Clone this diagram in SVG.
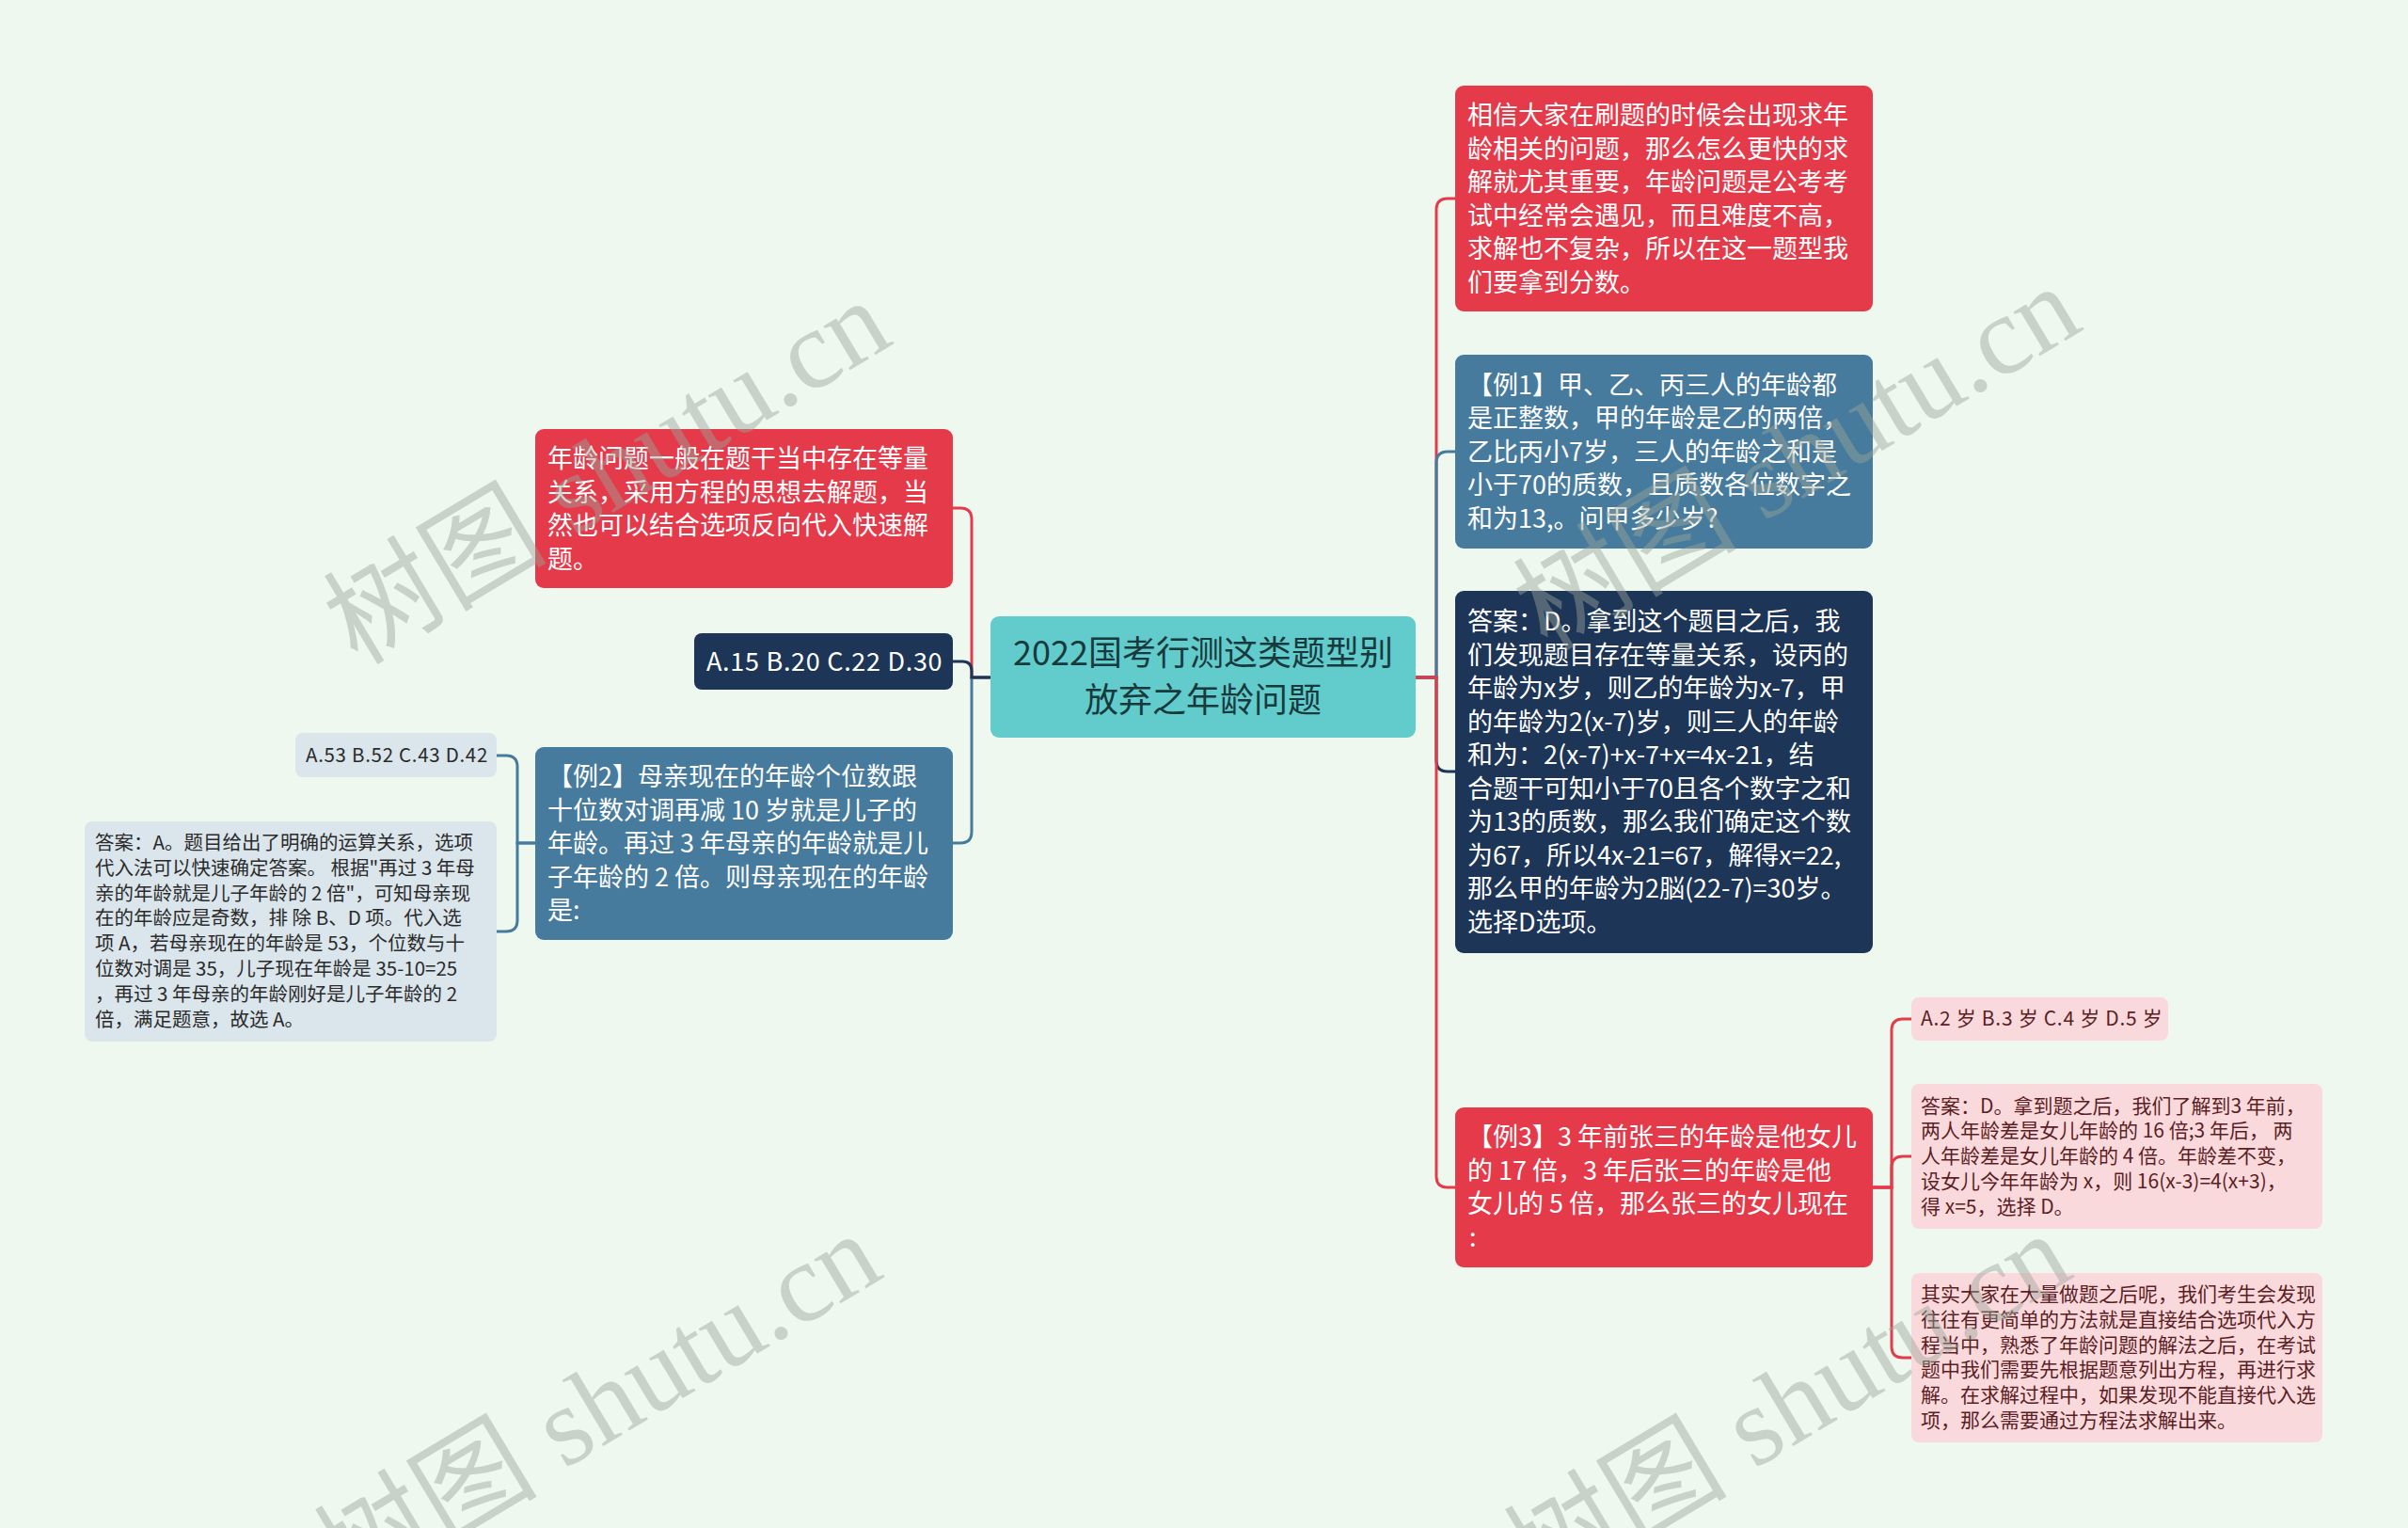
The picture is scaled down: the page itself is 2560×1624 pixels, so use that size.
<svg xmlns="http://www.w3.org/2000/svg" width="2560" height="1624" viewBox="0 0 2560 1624">
<style>
.t{font-family:"Noto Sans CJK SC","Noto Sans",sans-serif;}
.big{font-size:27px;fill:#ffffff;}
.sm{font-size:20.5px;fill:#2b2b2b;}
.pk{font-size:21px;fill:#5a1e24;}
.ctr{font-size:36px;fill:#173a3c;}
.ls{letter-spacing:0.7px;}
.red{fill:#e43a4a;}
.blue{fill:#477b9d;}
.navy{fill:#1d3557;}
.teal{fill:#62cbcc;}
.pink{fill:#fad9dd;}
.gb{fill:#dae5ec;}
.c{fill:none;stroke-width:3;stroke-linecap:round;}
.cr{stroke:#e43a4a;}
.cb{stroke:#477b9d;}
.cn{stroke:#1d3557;}
.wm{font-family:"Liberation Serif","Noto Sans CJK SC",serif;font-size:119px;fill:#9aa59a;opacity:0.45;}
</style>
<rect x="0" y="0" width="2560" height="1624" fill="#eff8ef"/>
<g id="connectors">
<path class="c cr" d="M1505,720 H1527 V223 Q1527,211 1539,211 H1547"/>
<path class="c cn" d="M1505,720 H1527 V808 Q1527,820 1539,820 H1547"/>
<path class="c cb" d="M1505,720 H1527 V492 Q1527,480 1539,480 H1547"/>
<path class="c cr" d="M1505,720 H1527 V1250 Q1527,1262 1539,1262 H1547"/>
<path class="c cr" d="M1991,1262 H2011 V1095 Q2011,1083 2023,1083 H2032"/>
<path class="c cr" d="M1991,1262 H2011 V1241 Q2011,1229 2023,1229 H2032"/>
<path class="c cr" d="M1991,1262 H2011 V1431 Q2011,1443 2023,1443 H2032"/>
<path class="c cr" d="M1053,720 H1033 V552 Q1033,540 1021,540 H1013"/>
<path class="c cb" d="M1053,720 H1033 V884 Q1033,896 1021,896 H1013"/>
<path class="c cn" d="M1053,720 H1033 V713 Q1033,703 1023,703 H1013"/>
<path class="c cb" d="M569,896 H550 V815 Q550,803 538,803 H528"/>
<path class="c cb" d="M569,896 H550 V978 Q550,990 538,990 H528"/>
</g>
<g id="center">
<rect class="teal" x="1053" y="655" width="452" height="129" rx="9"/>
<text class="t ctr" x="1279" text-anchor="middle"><tspan x="1279" y="707">2022国考行测这类题型别</tspan><tspan x="1279" y="757">放弃之年龄问题</tspan></text>
</g>
<g id="r1">
<rect class="red" x="1547" y="91" width="444" height="240" rx="9"/>
<text class="t big"><tspan x="1560" y="132">相信大家在刷题的时候会出现求年</tspan><tspan x="1560" dy="35.5">龄相关的问题，那么怎么更快的求</tspan><tspan x="1560" dy="35.5">解就尤其重要，年龄问题是公考考</tspan><tspan x="1560" dy="35.5">试中经常会遇见，而且难度不高，</tspan><tspan x="1560" dy="35.5">求解也不复杂，所以在这一题型我</tspan><tspan x="1560" dy="35.5">们要拿到分数。</tspan></text>
</g>
<g id="r2">
<rect class="blue" x="1547" y="377" width="444" height="206" rx="9"/>
<text class="t big"><tspan x="1560" y="418.5">【例1】甲、乙、丙三人的年龄都</tspan><tspan x="1560" dy="35.5">是正整数，甲的年龄是乙的两倍，</tspan><tspan x="1560" dy="35.5">乙比丙小7岁，三人的年龄之和是</tspan><tspan x="1560" dy="35.5">小于70的质数，且质数各位数字之</tspan><tspan x="1560" dy="35.5">和为13,。问甲多少岁?</tspan></text>
</g>
<g id="r3">
<rect class="navy" x="1547" y="628" width="444" height="385" rx="9"/>
<text class="t big"><tspan x="1560" y="670">答案：D。拿到这个题目之后，我</tspan><tspan x="1560" dy="35.5">们发现题目存在等量关系，设丙的</tspan><tspan x="1560" dy="35.5">年龄为x岁，则乙的年龄为x-7，甲</tspan><tspan x="1560" dy="35.5">的年龄为2(x-7)岁，则三人的年龄</tspan><tspan x="1560" dy="35.5">和为：2(x-7)+x-7+x=4x-21，结</tspan><tspan x="1560" dy="35.5">合题干可知小于70且各个数字之和</tspan><tspan x="1560" dy="35.5">为13的质数，那么我们确定这个数</tspan><tspan x="1560" dy="35.5">为67，所以4x-21=67，解得x=22,</tspan><tspan x="1560" dy="35.5">那么甲的年龄为2脳(22-7)=30岁。</tspan><tspan x="1560" dy="35.5">选择D选项。</tspan></text>
</g>
<g id="r4">
<rect class="red" x="1547" y="1177" width="444" height="170" rx="9"/>
<text class="t big"><tspan x="1560" y="1218">【例3】3 年前张三的年龄是他女儿</tspan><tspan x="1560" dy="35.5">的 17 倍，3 年后张三的年龄是他</tspan><tspan x="1560" dy="35.5">女儿的 5 倍，那么张三的女儿现在</tspan><tspan x="1562" dy="35.5">:</tspan></text>
</g>
<g id="p1">
<rect class="pink" x="2032" y="1060" width="273" height="46" rx="8"/>
<text class="t pk ls" x="2042" y="1090">A.2 岁 B.3 岁 C.4 岁 D.5 岁</text>
</g>
<g id="p2">
<rect class="pink" x="2032" y="1152" width="437" height="154" rx="8"/>
<text class="t pk"><tspan x="2042" y="1182.5">答案：D。拿到题之后，我们了解到3 年前，</tspan><tspan x="2042" dy="26.8">两人年龄差是女儿年龄的 16 倍;3 年后， 两</tspan><tspan x="2042" dy="26.8">人年龄差是女儿年龄的 4 倍。年龄差不变，</tspan><tspan x="2042" dy="26.8">设女儿今年年龄为 x，则 16(x-3)=4(x+3)，</tspan><tspan x="2042" dy="26.8">得 x=5，选择 D。</tspan></text>
</g>
<g id="p3">
<rect class="pink" x="2032" y="1353" width="437" height="180" rx="8"/>
<text class="t pk"><tspan x="2042" y="1383">其实大家在大量做题之后呢，我们考生会发现</tspan><tspan x="2042" dy="26.8">往往有更简单的方法就是直接结合选项代入方</tspan><tspan x="2042" dy="26.8">程当中，熟悉了年龄问题的解法之后，在考试</tspan><tspan x="2042" dy="26.8">题中我们需要先根据题意列出方程，再进行求</tspan><tspan x="2042" dy="26.8">解。在求解过程中，如果发现不能直接代入选</tspan><tspan x="2042" dy="26.8">项，那么需要通过方程法求解出来。</tspan></text>
</g>
<g id="l1">
<rect class="red" x="569" y="456" width="444" height="169" rx="9"/>
<text class="t big"><tspan x="582" y="497">年龄问题一般在题干当中存在等量</tspan><tspan x="582" dy="35.5">关系，采用方程的思想去解题，当</tspan><tspan x="582" dy="35.5">然也可以结合选项反向代入快速解</tspan><tspan x="582" dy="35.5">题。</tspan></text>
</g>
<g id="l2">
<rect class="navy" x="738" y="673" width="275" height="60" rx="8"/>
<text class="t big ls" x="751" y="713">A.15 B.20 C.22 D.30</text>
</g>
<g id="l3">
<rect class="blue" x="569" y="794" width="444" height="205" rx="9"/>
<text class="t big"><tspan x="582" y="835">【例2】母亲现在的年龄个位数跟</tspan><tspan x="582" dy="35.5">十位数对调再减 10 岁就是儿子的</tspan><tspan x="582" dy="35.5">年龄。再过 3 年母亲的年龄就是儿</tspan><tspan x="582" dy="35.5">子年龄的 2 倍。则母亲现在的年龄</tspan><tspan x="582" dy="35.5">是:</tspan></text>
</g>
<g id="ll1">
<rect class="gb" x="314" y="779" width="214" height="47" rx="8"/>
<text class="t sm ls" x="519" y="810" text-anchor="end">A.53 B.52 C.43 D.42</text>
</g>
<g id="ll2">
<rect class="gb" x="90" y="873" width="438" height="234" rx="8"/>
<text class="t sm"><tspan x="101" y="903">答案：A。题目给出了明确的运算关系，选项</tspan><tspan x="101" dy="26.8">代入法可以快速确定答案。 根据"再过 3 年母</tspan><tspan x="101" dy="26.8">亲的年龄就是儿子年龄的 2 倍"，可知母亲现</tspan><tspan x="101" dy="26.8">在的年龄应是奇数，排 除 B、D 项。代入选</tspan><tspan x="101" dy="26.8">项 A，若母亲现在的年龄是 53，个位数与十</tspan><tspan x="101" dy="26.8">位数对调是 35，儿子现在年龄是 35-10=25</tspan><tspan x="101" dy="26.8">，再过 3 年母亲的年龄刚好是儿子年龄的 2</tspan><tspan x="101" dy="26.8">倍，满足题意，故选 A。</tspan></text>
</g>
<g id="watermark">
<text class="wm" transform="translate(380,708) rotate(-31)">树图 shutu.cn</text>
<text class="wm" transform="translate(370,1700) rotate(-31)">树图 shutu.cn</text>
<text class="wm" transform="translate(1645,693) rotate(-31)">树图 shutu.cn</text>
<text class="wm" transform="translate(1635,1700) rotate(-31)">树图 shutu.cn</text>
</g>
</svg>
